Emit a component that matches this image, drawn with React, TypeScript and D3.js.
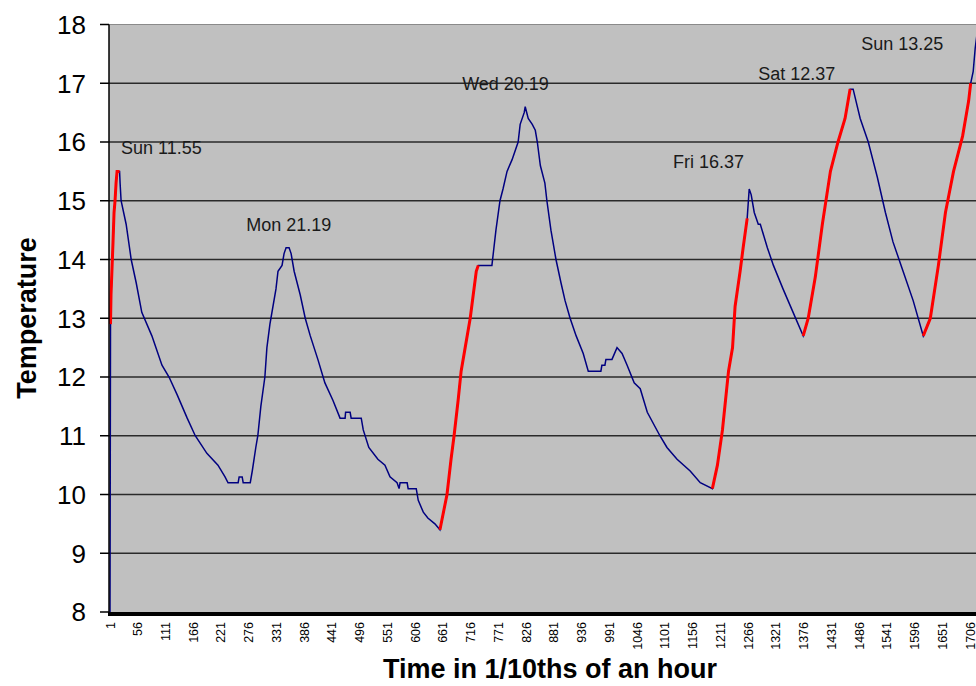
import React from "react";
import * as d3 from "d3";

// Sample index (1/10ths of an hour) and temperature
const sampleIndex = [
  1, 2, 3, 7, 9, 11, 13, 15, 20, 21, 23, 33, 43, 53, 64, 84, 104, 118, 134, 154, 170, 193, 215, 229, 235, 255, 257, 263, 265, 279,
  283, 290, 294, 300, 308, 312, 318, 320, 330, 334, 342, 346, 350, 356, 360, 366, 378, 388, 398, 413, 427, 443, 457, 467, 468, 477,
  479, 499, 503, 514, 532, 546, 556, 570, 574, 576, 590, 592, 608, 612, 622, 631, 645, 655,
  669, 677, 683, 691, 697, 705, 715, 721, 727, 731,
  735, 758, 762, 766, 774, 780, 788, 798, 810, 814, 822, 824, 830, 838, 844, 848, 854, 863, 867, 875, 885, 895, 903, 913, 925, 939,
  949, 974, 976, 982, 984, 996, 1006, 1016, 1026, 1040, 1052, 1066, 1091, 1105, 1125, 1151, 1171, 1195,
  1205, 1215, 1221, 1227, 1235, 1240, 1250, 1256, 1264,
  1268, 1272, 1278, 1286, 1290, 1304, 1316, 1335, 1355, 1375,
  1385, 1399, 1413, 1429, 1444, 1458, 1468,
  1474, 1488, 1504, 1522, 1538, 1553, 1573, 1593, 1613,
  1627, 1643, 1657, 1673, 1691, 1703, 1707,
  1712, 1716, 1719,
];
const temperature = [
  8.0, 12.9, 13.4, 14.3, 14.8, 15.0, 15.3, 15.5, 15.5, 15.3, 15.0, 14.6, 14.0, 13.6, 13.1, 12.7, 12.2, 12.0, 11.7, 11.3, 11.0, 10.7, 10.5, 10.3, 10.2, 10.2, 10.3, 10.3, 10.2, 10.2,
  10.4, 10.8, 11.0, 11.5, 12.0, 12.5, 12.9, 13.0, 13.5, 13.8, 13.9, 14.1, 14.2, 14.2, 14.1, 13.8, 13.4, 13.0, 12.7, 12.3, 11.9, 11.6, 11.3, 11.3, 11.4, 11.4,
  11.3, 11.3, 11.1, 10.8, 10.6, 10.5, 10.3, 10.2, 10.1, 10.2, 10.2, 10.1, 10.1, 9.9, 9.7, 9.6, 9.5, 9.4,
  10.0, 10.6, 11.0, 11.6, 12.1, 12.5, 13.0, 13.4, 13.8, 13.9,
  13.9, 13.9, 14.2, 14.5, 15.0, 15.2, 15.5, 15.7, 16.0, 16.3, 16.5, 16.6, 16.4, 16.3, 16.2, 16.0, 15.6, 15.3, 15.0, 14.5, 14.0, 13.6, 13.3, 13.0, 12.7, 12.4,
  12.1, 12.1, 12.2, 12.2, 12.3, 12.3, 12.5, 12.4, 12.2, 11.9, 11.8, 11.4, 11.0, 10.8, 10.6, 10.4, 10.2, 10.1,
  10.5, 11.1, 11.6, 12.1, 12.5, 13.2, 13.8, 14.2, 14.7,
  15.2, 15.1, 14.8, 14.6, 14.6, 14.2, 13.9, 13.5, 13.1, 12.7,
  13.0, 13.7, 14.6, 15.5, 16.0, 16.4, 16.9,
  16.9, 16.4, 16.0, 15.4, 14.8, 14.3, 13.8, 13.3, 12.7,
  13.0, 13.9, 14.8, 15.5, 16.1, 16.7, 17.0,
  17.2, 17.6, 17.8,
];
// Heating periods drawn in red: [first index, last index]
const heatingStart = [2, 655, 1195, 1375, 1613];
const heatingEnd = [20, 731, 1264, 1468, 1707];

const yTicks = [8, 9, 10, 11, 12, 13, 14, 15, 16, 17, 18];
const xTickLabels = d3.range(1, 1707, 55);

const noteText = ["Sun 11.55", "Mon 21.19", "Wed 20.19", "Fri 16.37", "Sat 12.37", "Sun 13.25"];
const noteIndex = [23, 271, 699, 1117, 1286, 1490];
const noteTemp = [15.8, 14.48, 16.89, 15.56, 17.06, 17.56];

export default function App() {
  const W = 976, H = 686;
  const left = 109, top = 24.5, bottom = 612, right = 990;
  const x = d3.scaleLinear().domain([1, 1706]).range([110, 110 + 1705 * 0.5045]);
  const y = d3.scaleLinear().domain([8, 18]).range([bottom, top]);
  const pts = sampleIndex.map((i, k) => ({ i, t: temperature[k] }));
  const line = d3.line<{ i: number; t: number }>().x(d => x(d.i)).y(d => y(d.t));
  const redPaths = heatingStart.map((s, k) => line(pts.filter(p => p.i >= s && p.i <= heatingEnd[k])) || "");
  const font = "Arial, 'Liberation Sans', Helvetica, sans-serif";

  return (
    <svg width={W} height={H} style={{ position: "absolute", left: 0, top: 0, background: "#fff" }} fontFamily={font}>
      <defs>
        <clipPath id="plot">
          <rect x={left} y={top} width={right - left} height={bottom - top} />
        </clipPath>
      </defs>
      <rect x={left} y={top} width={right - left} height={bottom - top} fill="#c0c0c0" />
      <line x1={left} x2={right} y1={top} y2={top} stroke="#8a8a8a" strokeWidth={1.2} />
      {yTicks.filter(t => t > 8 && t < 18).map(t => (
        <line key={t} x1={left} x2={right} y1={y(t)} y2={y(t)} stroke="#2a2a2a" strokeWidth={1.6} />
      ))}
      <g clipPath="url(#plot)">
        <path d={line(pts) || ""} fill="none" stroke="#000080" strokeWidth={1.5} />
        {redPaths.map((d, k) => (
          <path key={k} d={d} fill="none" stroke="#ff0000" strokeWidth={3} />
        ))}
      </g>
      {/* y axis */}
      <line x1={left} x2={left} y1={top} y2={bottom} stroke="#000" strokeWidth={1.5} />
      {yTicks.map(t => (
        <g key={t}>
          <line x1={100} x2={left} y1={y(t)} y2={y(t)} stroke="#000" strokeWidth={1.5} />
          <text x={86} y={y(t)} dy="0.36em" textAnchor="end" fontSize={26} fill="#000">{t}</text>
        </g>
      ))}
      {/* x axis */}
      <line x1={left - 1} x2={right} y1={bottom + 2} y2={bottom + 2} stroke="#000" strokeWidth={4} />
      {xTickLabels.map(v => (
        <text key={v} transform={`translate(${x(v)},${622}) rotate(-90)`} textAnchor="end" dy="0.36em" fontSize={12.5} fill="#000">{v}</text>
      ))}
      {/* annotations */}
      {noteText.map((s, k) => (
        <text key={k} x={x(noteIndex[k])} y={y(noteTemp[k])} fontSize={18} fill="#1a1a1a">{s}</text>
      ))}
      {/* titles */}
      <text x={550} y={678} textAnchor="middle" fontSize={27} fontWeight="bold" fill="#000">Time in 1/10ths of an hour</text>
      <text transform={`translate(36,318) rotate(-90)`} textAnchor="middle" fontSize={27} fontWeight="bold" fill="#000">Temperature</text>
    </svg>
  );
}
